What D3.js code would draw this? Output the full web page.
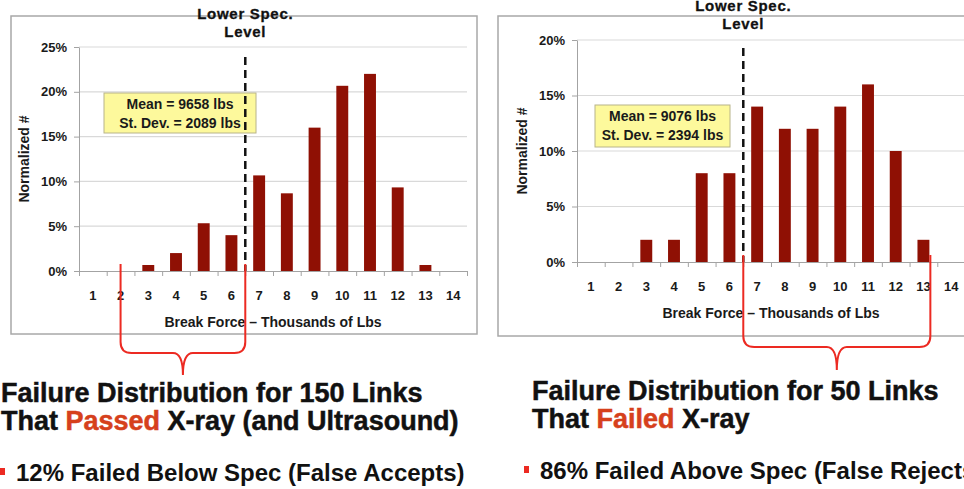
<!DOCTYPE html>
<html>
<head>
<meta charset="utf-8">
<script src="https://cdn.jsdelivr.net/npm/d3@7"></script>
<style>
  body { margin: 0; background: #fff; }
  svg { display: block; font-family: "Liberation Sans", Arial, sans-serif; }
</style>
</head>
<body>
<svg id="chart" width="964" height="489"></svg>
<script>
// break force bins (thousands of lbs)
const categories = ["1", "2", "3", "4", "5", "6", "7", "8", "9", "10", "11", "12", "13", "14"]

// normalized # (%) per bin, 150 links that passed / 50 links that failed x-ray
const passedValues = [0, 0, 0.67, 2, 5.33, 4, 10.67, 8.67, 16, 20.67, 22, 9.33, 0.67, 0]
const failedValues = [0, 0, 2, 2, 8, 8, 14, 12, 12, 14, 16, 10, 2, 0]

const passedTicks = [0, 5, 10, 15, 20, 25]
const failedTicks = [0, 5, 10, 15, 20]

const specLevel = 6.5

const passedStats = ["Mean = 9658 lbs", "St. Dev. = 2089 lbs"]
const failedStats = ["Mean = 9076 lbs", "St. Dev. = 2394 lbs"]

const barColour = "#8f1004"
const braceColour = "#ec2a22"
const highlight = "#d6401c"

const svg = d3.select("#chart")

function drawPanel(p) {
    const g = svg.append("g")

    // outer chart frame
    g.append("rect")
        .attr("x", p.box[0]).attr("y", p.box[1])
        .attr("width", p.box[2]).attr("height", p.box[3])
        .attr("fill", "none")
        .attr("stroke", "#a8a8a8")
        .attr("stroke-width", 1.5)

    const x = d3.scaleBand()
        .domain(categories)
        .range([p.left, p.right])
        .paddingInner(0.57)
        .paddingOuter(0.285)

    // continuous version of the x axis, for bin edges and the spec line
    const xPos = d3.scaleLinear()
        .domain([0.5, categories.length + 0.5])
        .range([p.left, p.right])

    const y = d3.scaleLinear()
        .domain([0, d3.max(p.ticks)])
        .range([p.bottom, p.top])

    // gridlines
    g.append("g").selectAll("line")
        .data(p.ticks.filter(t => t > 0))
        .join("line")
        .attr("x1", p.left).attr("x2", p.right)
        .attr("y1", d => y(d)).attr("y2", d => y(d))
        .attr("stroke", "#d9d9d9")
        .attr("stroke-width", 1.2)

    const yAxis = g.append("g")
        .attr("transform", `translate(${p.left},0)`)
        .call(d3.axisLeft(y)
            .tickValues(p.ticks)
            .tickSize(5)
            .tickSizeOuter(0)
            .tickPadding(7)
            .tickFormat(d => d + "%"))
    yAxis.attr("font-family", null).attr("font-size", 13)
    yAxis.selectAll(".domain, .tick line").attr("stroke", "#a3a3a3")
    yAxis.selectAll("text").attr("font-weight", "bold").attr("fill", "#1a1a1a")

    // tick marks sit between bins
    const xAxis = g.append("g")
        .attr("transform", `translate(0,${p.bottom})`)
        .call(d3.axisBottom(xPos)
            .tickValues(d3.range(0.5, categories.length + 1, 1))
            .tickSize(5)
            .tickSizeOuter(0)
            .tickFormat(""))
    xAxis.selectAll(".domain, .tick line").attr("stroke", "#a3a3a3")

    const xLabels = g.append("g")
        .attr("transform", `translate(0,${p.bottom})`)
        .call(d3.axisBottom(x).tickSize(0).tickPadding(20))
    xLabels.attr("font-family", null).attr("font-size", 13)
    xLabels.select(".domain").remove()
    xLabels.selectAll("text").attr("font-weight", "bold").attr("fill", "#1a1a1a")

    g.append("text")
        .attr("x", (p.left + p.right) / 2)
        .attr("y", p.bottom + 56)
        .attr("text-anchor", "middle")
        .attr("font-size", 14)
        .attr("font-weight", "bold")
        .attr("fill", "#1a1a1a")
        .text("Break Force \u2013 Thousands of Lbs")

    g.append("text")
        .attr("transform", `translate(${p.left - 50},${(p.top + p.bottom) / 2}) rotate(-90)`)
        .attr("text-anchor", "middle")
        .attr("font-size", 14)
        .attr("font-weight", "bold")
        .attr("fill", "#1a1a1a")
        .text("Normalized #")

    g.append("g").selectAll("rect")
        .data(p.values.map((v, i) => ({cat: categories[i], v: v})))
        .join("rect")
        .attr("x", d => x(d.cat))
        .attr("width", x.bandwidth())
        .attr("y", d => y(d.v))
        .attr("height", d => y(0) - y(d.v))
        .attr("fill", barColour)

    // mean / st. dev. note
    const sb = g.append("g")
        .attr("transform", `translate(${p.statsBox[0]},${p.statsBox[1]})`)
    sb.append("rect")
        .attr("width", p.statsBox[2])
        .attr("height", p.statsBox[3])
        .attr("fill", "#fdf99c")
        .attr("stroke", "#b8b48a")
    sb.selectAll("text")
        .data(p.stats)
        .join("text")
        .attr("x", p.statsBox[2] / 2)
        .attr("y", (d, i) => 16 + i * 19)
        .attr("text-anchor", "middle")
        .attr("font-size", 14)
        .attr("font-weight", "bold")
        .attr("fill", "#1a1a1a")
        .text(d => d)

    // lower spec line
    const sx = xPos(specLevel)
    g.append("line")
        .attr("x1", sx).attr("x2", sx)
        .attr("y1", p.top + p.specTop)
        .attr("y2", p.bottom)
        .attr("stroke", "#111")
        .attr("stroke-width", 2.5)
        .attr("stroke-dasharray", "8,5")

    const specLabel = g.append("text")
        .attr("text-anchor", "middle")
        .attr("font-size", 15)
        .attr("font-weight", "bold")
        .attr("letter-spacing", 0.7)
        .attr("fill", "#111")
        .attr("stroke", "#111")
        .attr("stroke-width", 0.3)
    specLabel.append("tspan").attr("x", sx).attr("y", p.top + p.specLabel).text("Lower Spec.")
    specLabel.append("tspan").attr("x", sx).attr("y", p.top + p.specLabel + 18).text("Level")

    // curly brace under the bins it groups
    const b0 = xPos(p.brace[0]), b1 = xPos(p.brace[1])
    const mid = (b0 + b1) / 2
    const top = p.bottom - 7
    const hy = p.bottom + p.braceY
    const tip = p.bottom + p.braceTip
    const r = 11
    const path = d3.path()
    path.moveTo(b0, top)
    path.lineTo(b0, hy - r)
    path.quadraticCurveTo(b0, hy, b0 + r, hy)
    path.lineTo(mid - 10, hy)
    path.quadraticCurveTo(mid, hy, mid, tip)
    path.quadraticCurveTo(mid, hy, mid + 10, hy)
    path.lineTo(b1 - r, hy)
    path.quadraticCurveTo(b1, hy, b1, hy - r)
    path.lineTo(b1, top)
    g.append("path")
        .attr("d", path.toString())
        .attr("fill", "none")
        .attr("stroke", braceColour)
        .attr("stroke-width", 2)
}

function drawCaption(c) {
    const g = svg.append("g")
    const title = g.append("text")
        .attr("font-size", 27)
        .attr("font-weight", "bold")
        .attr("fill", "#111")
        .attr("stroke", "#111")
        .attr("stroke-width", 0.5)
    title.append("tspan").attr("x", c.x).attr("y", c.y).text(c.line1)
    const l2 = title.append("tspan").attr("x", c.x).attr("y", c.y + 28)
    l2.append("tspan").text("That ")
    l2.append("tspan").attr("fill", highlight).attr("stroke", highlight).text(c.word)
    l2.append("tspan").text(c.rest)

    g.append("rect")
        .attr("x", c.bulletX).attr("y", c.y + 66)
        .attr("width", 5).attr("height", 7)
        .attr("fill", braceColour)
    g.append("text")
        .attr("x", c.bulletX + 16)
        .attr("y", c.y + 79)
        .attr("font-size", 24)
        .attr("font-weight", "bold")
        .attr("fill", "#111")
        .text(c.bullet)
}

drawPanel({
    box: [11, 16, 466, 318],
    left: 79, right: 467, top: 47, bottom: 271,
    values: passedValues, ticks: passedTicks, stats: passedStats,
    statsBox: [104, 93, 152, 40],
    specTop: 10, specLabel: -28,
    brace: [2, 6.5], braceY: 82, braceTip: 104
})

drawPanel({
    box: [498, 16, 520, 320],
    left: 577, right: 965, top: 40, bottom: 262,
    values: failedValues, ticks: failedTicks, stats: failedStats,
    statsBox: [595, 105, 135, 42],
    specTop: 8, specLabel: -29,
    brace: [6.5, 13.25], braceY: 85, braceTip: 108
})

drawCaption({
    x: 1, y: 402, bulletX: 0,
    line1: "Failure Distribution for 150 Links",
    word: "Passed", rest: " X-ray (and Ultrasound)",
    bullet: "12% Failed Below Spec (False Accepts)"
})

drawCaption({
    x: 532, y: 400, bulletX: 524,
    line1: "Failure Distribution for 50 Links",
    word: "Failed", rest: " X-ray",
    bullet: "86% Failed Above Spec (False Rejects)"
})
</script>
</body>
</html>
